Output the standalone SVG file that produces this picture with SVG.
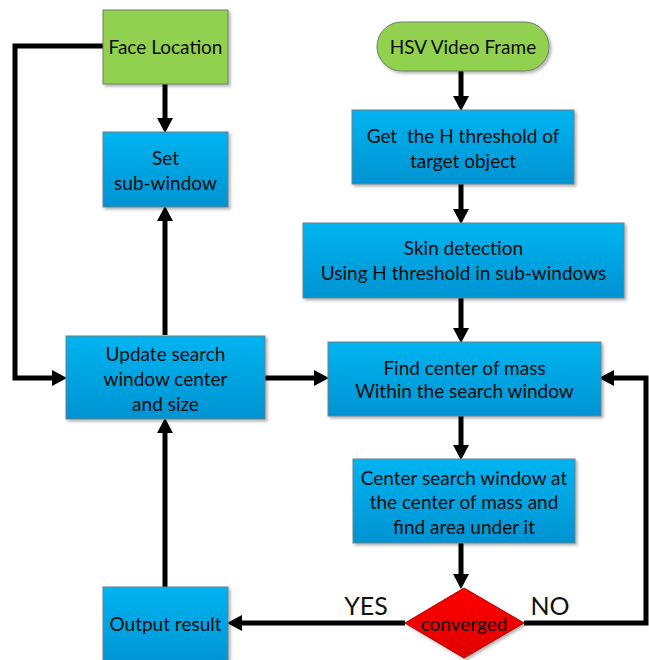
<svg xmlns="http://www.w3.org/2000/svg" width="649" height="660" viewBox="0 0 649 660">
<defs>
<linearGradient id="blue" x1="0" y1="0" x2="0" y2="1">
<stop offset="0" stop-color="#00B4F0"/>
<stop offset="1" stop-color="#0093D2"/>
</linearGradient>
<linearGradient id="red" x1="0" y1="0" x2="0" y2="1">
<stop offset="0" stop-color="#FF0000"/>
<stop offset="1" stop-color="#E00000"/>
</linearGradient>
<filter id="sh" x="-10%" y="-10%" width="130%" height="130%">
<feDropShadow dx="2" dy="2" stdDeviation="1.5" flood-color="#000" flood-opacity="0.3"/>
</filter>
<marker id="ah" markerUnits="userSpaceOnUse" markerWidth="16" markerHeight="18" refX="4" refY="9" orient="auto">
<path d="M0,1 L15,9 L0,17 z" fill="#000"/>
</marker>
</defs>
<style>
.b{fill:url(#blue);stroke:#6f7f8a;stroke-width:1;filter:url(#sh)}
.g{fill:#92D050;stroke:#6f7f6a;stroke-width:1;filter:url(#sh)}
.r{fill:url(#red);stroke:#a00;stroke-width:1;filter:url(#sh)}
.t{font-family:Lato,"Liberation Sans",sans-serif;font-size:19px;fill:#0d0d0d;text-anchor:middle;dominant-baseline:central}
.lbl{font-family:Lato,"Liberation Sans",sans-serif;font-size:25px;fill:#111;text-anchor:middle;dominant-baseline:central}
.c{fill:none;stroke:#000;stroke-width:5;stroke-linejoin:miter}
.a{marker-end:url(#ah)}
</style>
<g id="connectors">
<line class="c a" x1="165" y1="84" x2="165" y2="122"/>
<polyline class="c a" points="103,46 15,46 15,378 56,378"/>
<line class="c a" x1="165" y1="335" x2="165" y2="217"/>
<line class="c a" x1="165" y1="587" x2="165" y2="429"/>
<line class="c a" x1="265" y1="378" x2="318" y2="378"/>
<line class="c a" x1="461" y1="71" x2="461" y2="100"/>
<line class="c a" x1="461" y1="184" x2="461" y2="213"/>
<line class="c a" x1="461" y1="298" x2="461" y2="332"/>
<line class="c a" x1="461" y1="416" x2="461" y2="449"/>
<line class="c a" x1="461" y1="543" x2="461" y2="578"/>
<line class="c a" x1="405" y1="623" x2="238" y2="623"/>
<polyline class="c a" points="524,623 646,623 646,378 610,378"/>
</g>
<g id="face-location">
<rect class="g" x="103" y="10" width="125" height="74"/>
<text class="t" x="165.5" y="46">Face Location</text>
</g>
<g id="set-sub-window">
<rect class="b" x="103" y="132" width="125" height="75"/>
<text class="t" x="165.5" y="157">Set</text>
<text class="t" x="165.5" y="182">sub-window</text>
</g>
<g id="hsv-video-frame">
<rect class="g" x="377" y="22" width="172" height="49" rx="24.5" ry="24.5"/>
<text class="t" x="463" y="46">HSV Video Frame</text>
</g>
<g id="get-h-threshold">
<rect class="b" x="352" y="110" width="222" height="74"/>
<text class="t" x="463" y="135" xml:space="preserve">Get  the H threshold of</text>
<text class="t" x="463" y="160">target object</text>
</g>
<g id="skin-detection">
<rect class="b" x="303" y="223" width="321" height="75"/>
<text class="t" x="463.5" y="247">Skin detection</text>
<text class="t" x="463.5" y="272">Using H threshold in sub-windows</text>
</g>
<g id="update-search-window">
<rect class="b" x="66" y="336" width="199" height="83"/>
<text class="t" x="165.5" y="353">Update search</text>
<text class="t" x="165.5" y="378">window center</text>
<text class="t" x="165.5" y="403">and size</text>
</g>
<g id="find-center-of-mass">
<rect class="b" x="328" y="342" width="273" height="74"/>
<text class="t" x="464.5" y="367">Find center of mass</text>
<text class="t" x="464.5" y="390">Within the search window</text>
</g>
<g id="center-search-window">
<rect class="b" x="353" y="459" width="222" height="84"/>
<text class="t" x="464" y="477">Center search window at</text>
<text class="t" x="464" y="501">the center of mass and</text>
<text class="t" x="464" y="526">find area under it</text>
</g>
<g id="output-result">
<rect class="b" x="103" y="587" width="125" height="80"/>
<text class="t" x="165.5" y="623">Output result</text>
</g>
<g id="converged">
<polygon class="r" points="464,588 524,623 464,658 405,623"/>
<text class="t" x="464" y="623">converged</text>
</g>
<g id="labels">
<text class="lbl" x="366" y="605">YES</text>
<text class="lbl" x="550" y="605">NO</text>
</g>
</svg>
